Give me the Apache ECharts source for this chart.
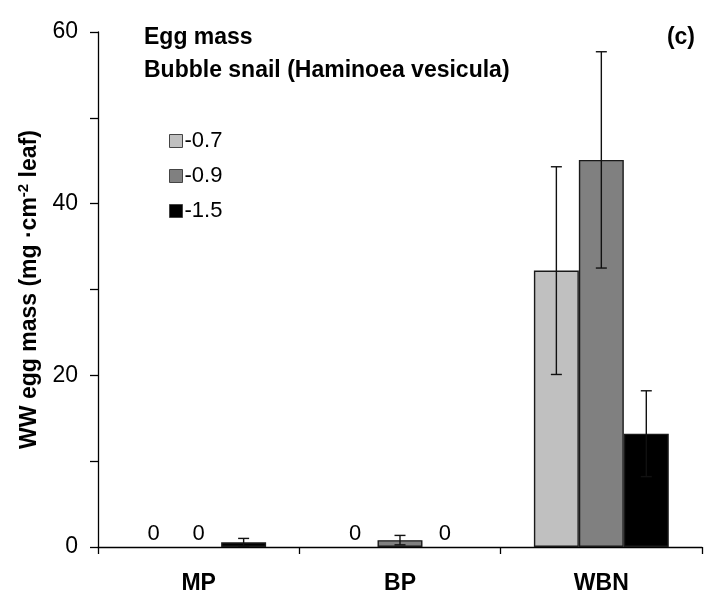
<!DOCTYPE html>
<html><head><meta charset="utf-8">
<script src="https://cdn.jsdelivr.net/npm/echarts@6/dist/echarts.min.js"></script>
<style>html,body{margin:0;padding:0;background:#fff}#c{width:722px;height:595px}</style>
</head><body><div id="c"></div>
<script>
const categories = ['MP', 'BP', 'WBN'];
const seriesNames = ['-0.7', '-0.9', '-1.5'];
const values07 = [0, 0, 32.2];
const values09 = [0, 0.8, 45.1];
const values15 = [0.55, 0, 13.2];
const errors07 = [0, 0, 12.1];
const errors09 = [0, 0.55, 12.6];
const errors15 = [0.45, 0, 5.0];
const yTicks = [0, 20, 40, 60];

const colors = ['#c0c0c0', '#808080', '#000000'];
const allVals = [values07, values09, values15];
const allErr = [errors07, errors09, errors15];
const FONT = 'Liberation Sans, Arial, sans-serif';

const chart = echarts.init(document.getElementById('c'), null, {renderer: 'canvas'});

const barSeries = seriesNames.map((n, i) => ({
  name: n,
  type: 'bar',
  data: allVals[i].map(v => (v === 0 ? {value: v, itemStyle: {borderWidth: 0}} : v)),
  barGap: '0%',
  barCategoryGap: '33%',
  itemStyle: {color: colors[i], borderColor: '#1a1a1a', borderWidth: 1.4},
  label: {
    show: true, position: 'top', distance: 2,
    fontFamily: FONT, fontSize: 22, color: '#000',
    formatter: p => (p.value === 0 ? '0' : '')
  },
  z: 2
}));

const errData = [];
for (let s = 0; s < 3; s++) {
  for (let c = 0; c < categories.length; c++) {
    if (allErr[s][c] > 0) errData.push([c, allVals[s][c], allErr[s][c], s]);
  }
}

const errSeries = {
  type: 'custom',
  name: 'err',
  data: errData,
  z: 5,
  renderItem: function (params, api) {
    const c = api.value(0), v = api.value(1), e = api.value(2), s = api.value(3);
    const band = api.size([1, 0])[0];
    const barW = band * 0.67 / 3;
    const center = api.coord([c, v]);
    const x = center[0] + (s - 1) * barW;
    const top = api.coord([c, v + e])[1];
    const bot = api.coord([c, Math.max(0, v - e)])[1];
    const cap = 5.5;
    const st = {stroke: '#111', lineWidth: 1.4, fill: null};
    return {
      type: 'group',
      children: [
        {type: 'line', shape: {x1: x, y1: top, x2: x, y2: bot}, style: st},
        {type: 'line', shape: {x1: x - cap, y1: top, x2: x + cap, y2: top}, style: st},
        {type: 'line', shape: {x1: x - cap, y1: bot, x2: x + cap, y2: bot}, style: st}
      ]
    };
  }
};

chart.setOption({
  animation: false,
  backgroundColor: '#fff',
  grid: {left: 98, right: 20, top: 32, bottom: 47, containLabel: false},
  legend: {
    data: seriesNames,
    orient: 'vertical',
    left: 164, top: 125,
    itemWidth: 13, itemHeight: 13, itemGap: 13,
    icon: 'rect',
    itemStyle: {borderColor: '#444', borderWidth: 1},
    textStyle: {fontFamily: FONT, fontSize: 22, lineHeight: 22, color: '#000', padding: [0, 0, 0, -3]}
  },
  title: [
    {text: 'Egg mass', left: 139, top: 21, textStyle: {fontFamily: FONT, fontSize: 23, fontWeight: 'bold', color: '#000'}},
    {text: 'Bubble snail (Haminoea vesicula)', left: 139, top: 54, textStyle: {fontFamily: FONT, fontSize: 23, fontWeight: 'bold', color: '#000'}},
    {text: '(c)', right: 22, top: 21, textStyle: {fontFamily: FONT, fontSize: 23, fontWeight: 'bold', color: '#000'}}
  ],
  xAxis: {
    type: 'category',
    data: categories,
    axisLine: {lineStyle: {color: '#000', width: 1.3}},
    axisTick: {show: true, length: 7, lineStyle: {color: '#000', width: 1.3}},
    axisLabel: {margin: 25, fontFamily: FONT, fontSize: 23, fontWeight: 'bold', color: '#000'}
  },
  yAxis: {
    type: 'value',
    min: yTicks[0], max: yTicks[yTicks.length - 1], interval: 20,
    name: 'WW egg mass (mg ·cm{sup|-2} leaf)',
    nameLocation: 'middle',
    nameGap: 50,
    nameRotate: 90,
    nameTextStyle: {
      fontFamily: FONT, fontSize: 23, fontWeight: 'bold', color: '#000',
      rich: {sup: {fontFamily: FONT, fontSize: 15, fontWeight: 'bold', color: '#000', verticalAlign: 'top', padding: [0, 0, 12, 0]}}
    },
    axisLine: {show: true, lineStyle: {color: '#000', width: 1.3}},
    axisTick: {show: true, length: 8, lineStyle: {color: '#000', width: 1.3}},
    minorTick: {show: true, splitNumber: 2, length: 8, lineStyle: {color: '#000', width: 1.3}},
    splitLine: {show: false},
    axisLabel: {margin: 20, fontFamily: FONT, fontSize: 23, color: '#000'}
  },
  series: [...barSeries, errSeries]
});
</script></body></html>
